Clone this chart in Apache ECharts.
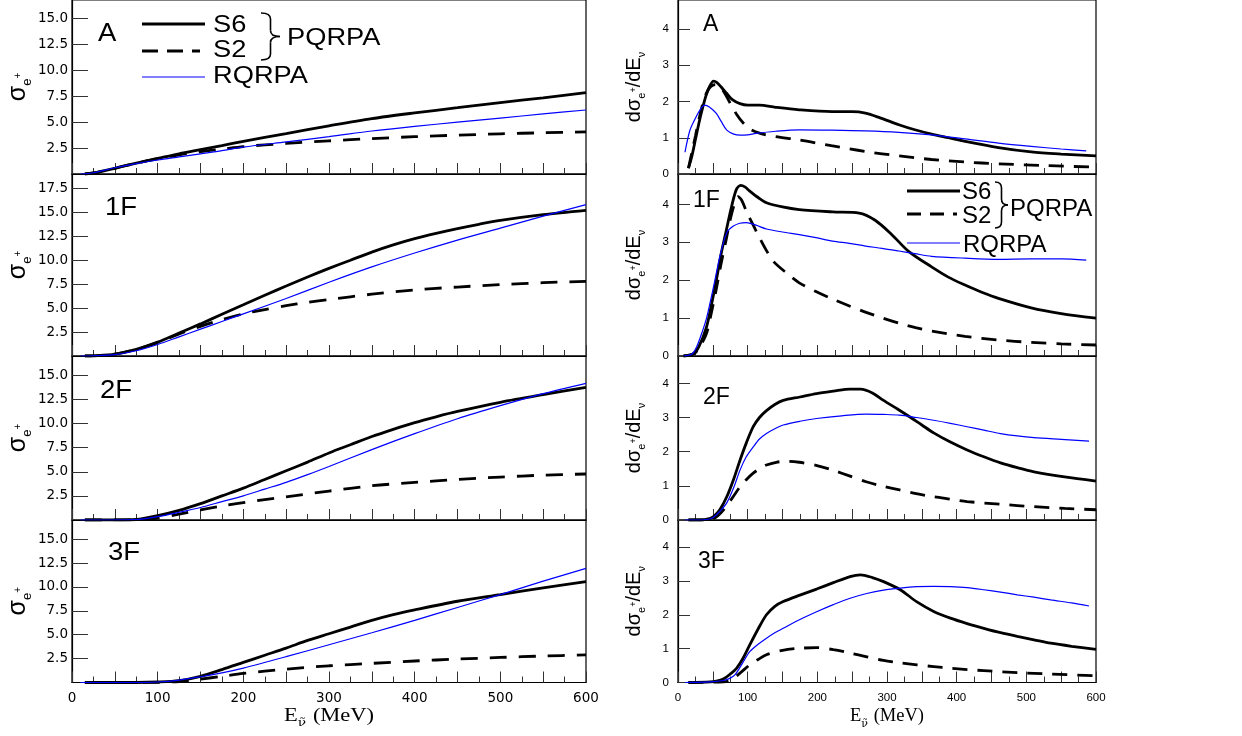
<!DOCTYPE html>
<html><head><meta charset="utf-8">
<script src="https://cdn.jsdelivr.net/npm/echarts@6/dist/echarts.min.js"></script>
<style>html,body{margin:0;padding:0;background:#fff}#c{width:1242px;height:736px}</style>
</head><body><div id="c"></div>
<script>
// ---------- DATA ----------
const panelNames = ['A', '1F', '2F', '3F'];
const xTickLabels = [0, 100, 200, 300, 400, 500, 600];
const legendNames = ['S6', 'S2', 'RQRPA'];
const groupName = 'PQRPA';

// Left column: total cross section sigma_e+ vs E
const sigA_S6 = [[15,0],[25,0.1],[50,0.55],[75,1.05],[100,1.5],[125,1.95],[150,2.35],[175,2.75],[200,3.15],[250,3.9],[300,4.65],[350,5.35],[400,5.9],[450,6.4],[500,6.9],[550,7.35],[600,7.85]];
const sigA_S2 = [[15,0],[25,0.1],[50,0.55],[75,1.05],[100,1.45],[125,1.85],[150,2.15],[175,2.4],[200,2.65],[250,2.95],[300,3.2],[350,3.42],[400,3.6],[450,3.75],[500,3.88],[550,3.98],[600,4.07]];
const sigA_RQ = [[10,0],[25,0.12],[50,0.6],[75,1.0],[100,1.35],[125,1.65],[150,1.95],[175,2.25],[200,2.6],[250,3.1],[300,3.6],[350,4.15],[400,4.6],[450,5.0],[500,5.4],[550,5.8],[600,6.18]];

const sig1F_S6 = [[15,0],[25,0.02],[50,0.2],[75,0.7],[100,1.45],[125,2.4],[150,3.35],[175,4.35],[200,5.35],[225,6.35],[250,7.3],[275,8.25],[300,9.15],[325,10.0],[350,10.85],[375,11.6],[400,12.25],[425,12.8],[450,13.3],[475,13.75],[500,14.15],[550,14.75],[600,15.2]];
const sig1F_S2 = [[15,0],[25,0.02],[50,0.2],[75,0.7],[100,1.4],[125,2.3],[150,3.1],[175,3.8],[200,4.4],[225,4.85],[250,5.25],[275,5.6],[300,5.9],[350,6.45],[400,6.9],[450,7.2],[500,7.45],[550,7.65],[600,7.8]];
const sig1F_RQ = [[10,0],[25,0.02],[50,0.15],[75,0.55],[100,1.2],[125,2.0],[150,2.8],[175,3.6],[200,4.4],[250,6.0],[300,7.7],[350,9.3],[400,10.75],[450,12.1],[500,13.35],[550,14.6],[600,15.8]];

const sig2F_S6 = [[15,0],[50,0],[75,0.05],[100,0.45],[125,1.0],[150,1.7],[175,2.5],[200,3.3],[225,4.2],[250,5.1],[275,6.0],[300,6.95],[325,7.8],[350,8.65],[375,9.4],[400,10.1],[425,10.7],[450,11.25],[500,12.2],[550,13.0],[600,13.75]];
const sig2F_S2 = [[15,0],[75,0.02],[100,0.2],[125,0.6],[150,1.05],[175,1.45],[200,1.8],[250,2.4],[300,3.0],[350,3.55],[400,3.9],[450,4.2],[500,4.45],[550,4.65],[600,4.77]];
const sig2F_RQ = [[10,0],[75,0.05],[100,0.35],[125,0.8],[150,1.3],[175,1.9],[200,2.5],[225,3.2],[250,3.9],[275,4.7],[300,5.55],[350,7.3],[400,8.95],[450,10.5],[500,11.85],[550,13.1],[600,14.17]];

const sig3F_S6 = [[15,0],[75,0],[100,0.05],[125,0.2],[150,0.65],[175,1.35],[200,2.1],[225,2.85],[250,3.6],[275,4.4],[300,5.1],[325,5.8],[350,6.5],[375,7.1],[400,7.6],[450,8.5],[500,9.2],[550,9.9],[600,10.55]];
const sig3F_S2 = [[15,0],[100,0.02],[125,0.1],[150,0.35],[175,0.65],[200,0.95],[250,1.4],[300,1.75],[350,2.0],[400,2.25],[450,2.45],[500,2.62],[550,2.77],[600,2.88]];
const sig3F_RQ = [[10,0],[75,0],[100,0.05],[125,0.25],[150,0.6],[175,1.0],[200,1.5],[250,2.7],[300,3.95],[350,5.2],[400,6.5],[450,7.85],[500,9.2],[550,10.6],[600,11.94]];

// Right column: differential cross section dsigma/dE vs E
const dsA_S6 = [[15,0.16],[20,0.5],[25,0.95],[30,1.4],[35,1.8],[40,2.15],[45,2.4],[51,2.56],[56,2.52],[62,2.4],[70,2.22],[78,2.05],[89,1.94],[100,1.9],[117,1.9],[140,1.84],[174,1.77],[221,1.72],[250,1.72],[269,1.68],[290,1.55],[317,1.36],[340,1.22],[364,1.1],[388,1.0],[412,0.9],[460,0.73],[507,0.61],[550,0.55],[600,0.5]];
const dsA_S2 = [[15,0.16],[20,0.6],[25,1.05],[30,1.5],[35,1.9],[40,2.2],[45,2.37],[50,2.45],[56,2.47],[62,2.38],[68,2.2],[75,1.95],[84,1.65],[94,1.4],[105,1.22],[118,1.12],[140,1.03],[174,0.94],[220,0.78],[269,0.62],[317,0.5],[364,0.4],[412,0.33],[460,0.28],[530,0.23],[600,0.19]];
const dsA_RQ = [[10,0.6],[17,1.2],[24,1.5],[31,1.75],[38,1.9],[45,1.85],[55,1.67],[62,1.45],[70,1.21],[80,1.1],[89,1.07],[100,1.08],[112,1.12],[140,1.18],[174,1.22],[220,1.21],[269,1.19],[317,1.15],[364,1.08],[412,0.97],[460,0.85],[507,0.76],[550,0.69],[586,0.64]];

const ds1F_S6 = [[8,0],[22,0.06],[30,0.25],[41,0.77],[48,1.35],[55,2.0],[62,2.7],[69.5,3.33],[77,3.95],[84,4.4],[90,4.5],[96,4.46],[103,4.35],[115,4.18],[127,4.04],[150,3.93],[174,3.86],[222,3.8],[260,3.77],[283,3.58],[307,3.2],[331,2.76],[364,2.35],[388,2.08],[412,1.87],[436,1.68],[460,1.52],[507,1.27],[550,1.12],[600,1.0]];
const ds1F_S2 = [[8,0],[22,0.05],[30,0.2],[41,0.6],[48,1.15],[55,1.77],[62,2.45],[69.5,3.1],[75,3.6],[80,3.95],[86,4.2],[91,4.12],[98.6,3.8],[108,3.45],[117.6,3.1],[127,2.78],[136.7,2.5],[155,2.2],[174,1.93],[198,1.7],[222,1.5],[246,1.32],[270,1.15],[294,1.0],[318,0.86],[341,0.75],[364,0.66],[412,0.52],[460,0.42],[507,0.36],[550,0.32],[600,0.29]];
const ds1F_RQ = [[8,0],[20,0.05],[27,0.25],[35,0.65],[41,1.0],[46,1.4],[53,2.0],[60.5,2.66],[70,3.25],[79,3.42],[88.6,3.5],[98,3.52],[112,3.45],[127,3.35],[150,3.27],[174,3.2],[198,3.12],[222,3.03],[246,2.97],[269,2.9],[293,2.84],[317,2.77],[340,2.7],[364,2.63],[412,2.58],[460,2.55],[507,2.56],[550,2.56],[586,2.53]];

const ds2F_S6 = [[15,0],[32,0],[45,0.04],[51,0.1],[60,0.3],[70,0.68],[80,1.2],[89,1.75],[98,2.25],[108,2.73],[117,3.0],[127,3.2],[139,3.38],[151,3.5],[175,3.6],[199,3.7],[223,3.77],[247,3.83],[262,3.83],[279,3.72],[295,3.5],[315,3.25],[334,3.0],[350,2.78],[367,2.55],[391,2.28],[415,2.05],[439,1.85],[463,1.67],[487,1.53],[511,1.41],[555,1.26],[600,1.14]];
const ds2F_S2 = [[15,0],[41,0],[50,0.03],[57,0.12],[65,0.29],[77,0.62],[89,0.97],[98,1.18],[108,1.37],[117,1.5],[127,1.61],[141,1.69],[156,1.72],[174,1.69],[198,1.6],[222,1.46],[246,1.29],[270,1.12],[294,0.99],[318,0.88],[342,0.77],[367,0.68],[391,0.61],[415,0.54],[463,0.46],[511,0.39],[555,0.34],[600,0.3]];
const ds2F_RQ = [[10,0],[32,0],[45,0.03],[51,0.08],[60,0.25],[70,0.5],[80,0.95],[89,1.46],[98,1.85],[108,2.14],[117,2.37],[127,2.53],[139,2.67],[151,2.78],[175,2.89],[199,2.97],[235,3.05],[270,3.1],[295,3.09],[318,3.07],[342,3.0],[367,2.92],[391,2.83],[415,2.73],[439,2.63],[463,2.53],[487,2.46],[511,2.41],[550,2.36],[590,2.31]];

const ds3F_S6 = [[15,0],[46,0.02],[55,0.04],[65,0.1],[75,0.25],[84,0.42],[93,0.7],[103,1.11],[115,1.58],[127,2.0],[139,2.25],[151,2.39],[175,2.58],[199,2.76],[223,2.95],[247,3.13],[262,3.18],[279,3.1],[295,2.98],[319,2.74],[343,2.38],[367,2.1],[391,1.9],[415,1.74],[439,1.6],[463,1.47],[487,1.36],[511,1.26],[535,1.16],[565,1.07],[600,0.98]];
const ds3F_S2 = [[15,0],[65,0.02],[75,0.06],[82,0.16],[92,0.33],[103,0.52],[115,0.68],[127,0.82],[150,0.95],[174,1.01],[199,1.03],[223,0.97],[247,0.87],[271,0.76],[295,0.65],[319,0.58],[343,0.52],[367,0.47],[391,0.42],[439,0.35],[487,0.29],[535,0.25],[600,0.2]];
const ds3F_RQ = [[10,0],[46,0.02],[65,0.06],[75,0.13],[82,0.23],[92,0.55],[103,0.91],[115,1.13],[127,1.31],[139,1.47],[151,1.6],[175,1.86],[199,2.09],[223,2.3],[247,2.49],[271,2.63],[295,2.73],[319,2.79],[343,2.83],[367,2.84],[391,2.83],[415,2.8],[439,2.74],[463,2.67],[487,2.59],[511,2.52],[535,2.44],[565,2.35],[590,2.26]];

const leftData = [[sigA_S6, sigA_S2, sigA_RQ],[sig1F_S6, sig1F_S2, sig1F_RQ],[sig2F_S6, sig2F_S2, sig2F_RQ],[sig3F_S6, sig3F_S2, sig3F_RQ]];
const rightData = [[dsA_S6, dsA_S2, dsA_RQ],[ds1F_S6, ds1F_S2, ds1F_RQ],[ds2F_S6, ds2F_S2, ds2F_RQ],[ds3F_S6, ds3F_S2, ds3F_RQ]];

// ---------- LAYOUT ----------
const rowTop = [0, 174, 356, 520];
const rowH = [174, 182, 164, 162.5];
const leftMax = [16.8, 19, 17, 17];
const rightMax = [4.8, 4.8, 4.8, 4.8];
const colL = {left: 72, width: 514};
const colR = {left: 678, width: 418};

const grids = [], xAxes = [], yAxes = [], series = [];
const styles = [
  {color: '#000', width: 2.8, type: 'solid'},
  {color: '#000', width: 2.8, type: 'dashed'},
  {color: '#0000ff', width: 1.2, type: 'solid'}
];

function addPanel(col, r) {
  const isLeft = col === 0;
  const c = isLeft ? colL : colR;
  const gi = grids.length;
  grids.push({left: c.left, top: rowTop[r], width: c.width, height: rowH[r],
    show: true, borderColor: '#000', borderWidth: 1.2, backgroundColor: 'transparent', containLabel: false});
  const bottom = r === 3;
  xAxes.push({type: 'value', gridIndex: gi, min: 0, max: 600, interval: 50,
    axisLine: {show: true, onZero: false, lineStyle: {color: '#000', width: 1.2}},
    axisTick: {show: true, inside: true, length: 11, lineStyle: {color: '#333', width: 1}},
    minorTick: {show: true, splitNumber: 2, length: 6, lineStyle: {color: '#333', width: 1}},
    splitLine: {show: false}, minorSplitLine: {show: false},
    axisLabel: {show: bottom, margin: 9, color: '#000',
      fontFamily: isLeft ? 'DejaVu Sans' : 'Liberation Sans', fontSize: isLeft ? 13.5 : 11.5,
      showMinLabel: true, showMaxLabel: true,
      formatter: v => xTickLabels.indexOf(v) >= 0 ? String(v) : ''}
  });
  const max = isLeft ? leftMax[r] : rightMax[r];
  yAxes.push({type: 'value', gridIndex: gi, min: 0, max: max, interval: isLeft ? 2.5 : 1,
    axisLine: {show: true, onZero: false, lineStyle: {color: '#000', width: 1.2}},
    axisTick: {show: true, inside: true, length: isLeft ? 16 : 12, lineStyle: {color: '#333', width: 1}},
    splitLine: {show: false},
    axisLabel: {show: true, margin: isLeft ? 4 : 9, color: '#000',
      fontFamily: isLeft ? 'DejaVu Sans' : 'Liberation Sans', fontSize: isLeft ? 13.5 : 11.5,
      showMaxLabel: false, showMinLabel: !isLeft,
      formatter: v => {
        if (isLeft) {
          const k = v / 2.5;
          return (v > 0 && Math.abs(k - Math.round(k)) < 1e-6) ? v.toFixed(1) : '';
        }
        return Math.abs(v - Math.round(v)) < 1e-6 ? String(Math.round(v)) : '';
      }}
  });
  const data = isLeft ? leftData[r] : rightData[r];
  data.forEach((d, k) => {
    const s = styles[k];
    series.push({type: 'line', name: legendNames[k], xAxisIndex: gi, yAxisIndex: gi, data: d,
      symbol: 'none', showSymbol: false, smooth: 0.3, silent: true,
      z: k === 2 ? 3 : 2,
      lineStyle: {color: s.color, width: s.width, type: s.type === 'dashed' ? (isLeft ? [17, 12] : [15, 10]) : 'solid'}
    });
  });
}
for (let r = 0; r < 4; r++) { addPanel(0, r); addPanel(1, r); }

// ---------- GRAPHICS (labels, legends, titles) ----------
const g = [];
function txt(x, y, text, size, opts) {
  opts = opts || {};
  g.push({type: 'text', x: x, y: y, scaleX: opts.scaleX || 1, rotation: opts.rotation || 0, z: 10,
    style: {text: text, fill: '#000', fontSize: size, fontFamily: opts.font || 'Liberation Sans',
      align: opts.align || 'left', verticalAlign: 'middle', rich: opts.rich}});
}
function seg(x1, y1, x2, y2, k, dash) {
  const s = styles[k];
  g.push({type: 'line', z: 10, shape: {x1, y1, x2, y2},
    style: {stroke: s.color, lineWidth: s.width, lineDash: s.type === 'dashed' ? dash : null}});
}
function brace(x0, x1, yTop, yBot) {
  const xm = (x0 + x1) / 2, ym = (yTop + yBot) / 2, rr = 6;
  const st = {stroke: '#000', lineWidth: 1.6, fill: null};
  const q = (ax, ay, cx, cy, bx, by) => g.push({type: 'bezierCurve', z: 10,
    shape: {x1: ax, y1: ay, cpx1: cx, cpy1: cy, x2: bx, y2: by}, style: st});
  q(x0, yTop, xm, yTop, xm, yTop + rr);
  g.push({type: 'line', z: 10, shape: {x1: xm, y1: yTop + rr, x2: xm, y2: ym - rr}, style: st});
  q(xm, ym - rr, xm, ym, x1, ym);
  q(x1, ym, xm, ym, xm, ym + rr);
  g.push({type: 'line', z: 10, shape: {x1: xm, y1: ym + rr, x2: xm, y2: yBot - rr}, style: st});
  q(xm, yBot - rr, xm, yBot, x0, yBot);
}

// panel labels
const leftLabelPos = [[98, 34], [105, 208], [100, 391], [108, 553]];
const rightLabelPos = [[703, 25], [693, 201], [703, 398], [698, 562]];
panelNames.forEach((n, i) => {
  txt(leftLabelPos[i][0], leftLabelPos[i][1], n, 25, {scaleX: 1.1});
  txt(rightLabelPos[i][0], rightLabelPos[i][1], n, 23);
});

// legend in left panel A
seg(142, 24, 205, 24, 0); txt(213, 26, legendNames[0], 23.5, {scaleX: 1.16});
seg(142, 51, 200, 51, 1, [16, 9]); txt(213, 51, legendNames[1], 23.5, {scaleX: 1.16});
brace(261, 280, 13, 60);
txt(287, 39, groupName, 23.5, {scaleX: 1.16});
seg(142, 77, 205, 77, 2); txt(213, 77, legendNames[2], 23.5, {scaleX: 1.16});

// legend in right panel 1F
seg(907, 191, 960, 191, 0); txt(962, 192, legendNames[0], 24);
seg(907, 214, 957, 214, 1, [14, 9]); txt(962, 216, legendNames[1], 24);
brace(995, 1008, 182, 228);
txt(1010, 209, groupName, 24);
seg(907, 243, 960, 243, 2); txt(963, 245, legendNames[2], 24);

// y-axis titles
const richL = {s: {fontSize: 25, fontFamily: 'Liberation Sans', verticalAlign: 'bottom'},
  e: {fontSize: 13, fontFamily: 'Liberation Sans', verticalAlign: 'bottom', padding: [0, 0, -3, 0]},
  p: {fontSize: 10, fontFamily: 'Liberation Sans', verticalAlign: 'middle'}};
const richR = {t: {fontSize: 20, fontFamily: 'Liberation Sans', verticalAlign: 'bottom'},
  e: {fontSize: 11, fontFamily: 'Liberation Sans', verticalAlign: 'bottom', padding: [0, 0, -3, 0]},
  p: {fontSize: 9, fontFamily: 'Liberation Sans', verticalAlign: 'middle'},
  n: {fontSize: 11, fontFamily: 'Liberation Sans', verticalAlign: 'bottom', padding: [0, 0, -3, 0]}};
for (let r = 0; r < 4; r++) {
  const cy = rowTop[r] + rowH[r] / 2;
  txt(18, cy, '{s|σ}{e|e}{p|+}', 25, {rotation: Math.PI / 2, align: 'center', rich: richL});
  txt(634, cy, '{t|dσ}{e|e}{p|+}{t|/dE}{n|ν}', 20, {rotation: Math.PI / 2, align: 'center', rich: richR});
}
// x-axis titles
const richX = (f) => ({t: {fontSize: f, fontFamily: 'Liberation Serif', verticalAlign: 'bottom'},
  n: {fontSize: Math.round(f * 0.62), fontFamily: 'DejaVu Serif', verticalAlign: 'bottom', padding: [0, 1, -4, 0]}});
const xTitle = '{t|E}{n|\u03BD\u0303}{t|\u00A0(MeV)}';
txt(colL.left + colL.width / 2, 716, xTitle, 18, {align: 'center', scaleX: 1.25, rich: richX(18)});
txt(colR.left + colR.width / 2, 716, xTitle, 18.5, {align: 'center', rich: richX(18.5)});

const chart = echarts.init(document.getElementById('c'), null, {renderer: 'canvas'});
chart.setOption({
  animation: false,
  backgroundColor: '#fff',
  grid: grids, xAxis: xAxes, yAxis: yAxes, series: series,
  graphic: g
});
</script></body></html>
